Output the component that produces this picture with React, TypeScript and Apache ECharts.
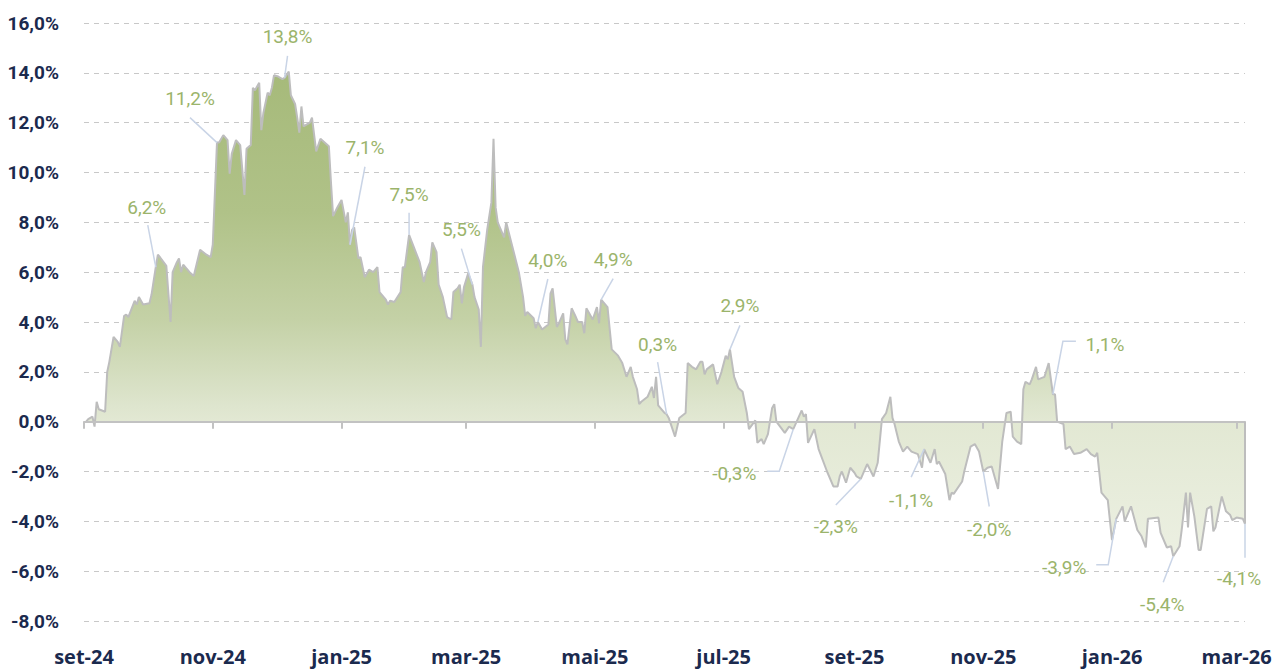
import { useEffect, useRef } from "react";
import * as echarts from "echarts";

// ---- data (date, cumulative % value) ----
const dates = [
  "2024-09-02","2024-09-03","2024-09-05","2024-09-06","2024-09-07","2024-09-08","2024-09-11","2024-09-12","2024-09-13","2024-09-15",
  "2024-09-17","2024-09-18","2024-09-20","2024-09-21","2024-09-22","2024-09-25","2024-09-26","2024-09-27","2024-09-29","2024-10-02",
  "2024-10-03","2024-10-05","2024-10-06","2024-10-07","2024-10-10","2024-10-12","2024-10-13","2024-10-15","2024-10-16","2024-10-17",
  "2024-10-18","2024-10-21","2024-10-23","2024-10-26","2024-10-29","2024-10-31","2024-11-01","2024-11-03","2024-11-04","2024-11-06",
  "2024-11-08","2024-11-09","2024-11-10","2024-11-12","2024-11-14","2024-11-16","2024-11-17","2024-11-19","2024-11-20","2024-11-21",
  "2024-11-23","2024-11-24","2024-11-25","2024-11-27","2024-11-28","2024-11-29","2024-11-30","2024-12-02","2024-12-04","2024-12-05",
  "2024-12-07","2024-12-08","2024-12-10","2024-12-11","2024-12-12","2024-12-13","2024-12-14","2024-12-17","2024-12-18","2024-12-20",
  "2024-12-22","2024-12-26","2024-12-27","2024-12-28","2024-12-30","2025-01-01","2025-01-03","2025-01-04","2025-01-05","2025-01-06",
  "2025-01-07","2025-01-09","2025-01-10","2025-01-12","2025-01-14","2025-01-16","2025-01-18","2025-01-19","2025-01-22","2025-01-23",
  "2025-01-24","2025-01-26","2025-01-29","2025-01-30","2025-01-31","2025-02-02","2025-02-07","2025-02-09","2025-02-10","2025-02-12",
  "2025-02-13","2025-02-15","2025-02-16","2025-02-18","2025-02-20","2025-02-22","2025-02-23","2025-02-25","2025-02-26","2025-02-27",
  "2025-02-28","2025-03-02","2025-03-04","2025-03-05","2025-03-07","2025-03-08","2025-03-09","2025-03-11","2025-03-13","2025-03-14",
  "2025-03-15","2025-03-16","2025-03-18","2025-03-19","2025-03-20","2025-03-23","2025-03-26","2025-03-28","2025-03-29","2025-03-30",
  "2025-04-02","2025-04-03","2025-04-04","2025-04-06","2025-04-09","2025-04-10","2025-04-11","2025-04-13","2025-04-14","2025-04-16",
  "2025-04-17","2025-04-18","2025-04-20","2025-04-22","2025-04-23","2025-04-25","2025-04-26","2025-04-27","2025-04-30","2025-05-02",
  "2025-05-03","2025-05-04","2025-05-07","2025-05-09","2025-05-12","2025-05-14","2025-05-16","2025-05-18","2025-05-19","2025-05-21",
  "2025-05-22","2025-05-23","2025-05-26","2025-05-28","2025-05-29","2025-05-30","2025-05-31","2025-06-03","2025-06-04","2025-06-05",
  "2025-06-08","2025-06-10","2025-06-13","2025-06-14","2025-06-16","2025-06-18","2025-06-20","2025-06-21","2025-06-22","2025-06-23",
  "2025-06-26","2025-06-28","2025-06-30","2025-07-02","2025-07-03","2025-07-04","2025-07-06","2025-07-08","2025-07-10","2025-07-12",
  "2025-07-13","2025-07-16","2025-07-17","2025-07-19","2025-07-20","2025-07-22","2025-07-24","2025-07-25","2025-07-26","2025-07-30",
  "2025-08-01","2025-08-03","2025-08-07","2025-08-08","2025-08-09","2025-08-10","2025-08-13","2025-08-15","2025-08-19","2025-08-22",
  "2025-08-24","2025-08-25","2025-08-26","2025-08-28","2025-08-30","2025-09-01","2025-09-02","2025-09-04","2025-09-07","2025-09-10",
  "2025-09-12","2025-09-14","2025-09-16","2025-09-18","2025-09-19","2025-09-20","2025-09-22","2025-09-24","2025-09-26","2025-09-28",
  "2025-10-01","2025-10-03","2025-10-04","2025-10-07","2025-10-09","2025-10-10","2025-10-11","2025-10-14","2025-10-16","2025-10-17",
  "2025-10-18","2025-10-22","2025-10-23","2025-10-26","2025-10-28","2025-10-30","2025-11-01","2025-11-03","2025-11-05","2025-11-08",
  "2025-11-10","2025-11-12","2025-11-14","2025-11-15","2025-11-17","2025-11-19","2025-11-20","2025-11-21","2025-11-23","2025-11-24",
  "2025-11-26","2025-11-27","2025-11-30","2025-12-02","2025-12-04","2025-12-05","2025-12-06","2025-12-09","2025-12-10","2025-12-12",
  "2025-12-14","2025-12-17","2025-12-20","2025-12-22","2025-12-24","2025-12-25","2025-12-27","2025-12-30","2026-01-01","2026-01-03",
  "2026-01-06","2026-01-07","2026-01-10","2026-01-13","2026-01-15","2026-01-17","2026-01-18","2026-01-23","2026-01-24","2026-01-27",
  "2026-01-29","2026-01-30","2026-02-02","2026-02-03","2026-02-05","2026-02-06","2026-02-07","2026-02-09","2026-02-11","2026-02-12",
  "2026-02-15","2026-02-17","2026-02-18","2026-02-19","2026-02-22","2026-02-24","2026-02-26","2026-02-27","2026-03-01","2026-03-04",
  "2026-03-05",
];

const values = [
  0.0, 0.1, 0.2, -0.2, 0.8, 0.5, 0.4, 2.0, 2.4, 3.4,
  3.2, 3.0, 4.25, 4.3, 4.2, 4.85, 4.7, 5.0, 4.7, 4.75,
  5.1, 6.2, 6.7, 6.6, 6.25, 4.0, 6.0, 6.4, 6.55, 6.0,
  6.3, 6.0, 5.85, 6.9, 6.7, 6.6, 7.1, 11.2, 11.2, 11.5,
  11.3, 9.95, 10.75, 11.3, 11.1, 9.1, 10.95, 11.1, 13.4, 13.3,
  13.6, 11.7, 12.4, 13.2, 13.1, 13.4, 13.9, 13.85, 13.75, 13.8,
  14.05, 13.1, 12.75, 12.2, 11.6, 12.65, 11.85, 12.0, 12.2, 10.85,
  11.35, 11.05, 9.6, 8.25, 8.6, 8.9, 8.0, 8.4, 7.1, 7.7,
  7.8, 6.55, 6.6, 5.8, 6.1, 6.0, 6.2, 5.2, 4.9, 4.7,
  4.85, 4.8, 5.2, 6.2, 6.2, 7.5, 6.4, 5.6, 6.0, 6.4,
  7.2, 6.8, 5.5, 5.0, 4.2, 4.1, 5.2, 5.35, 5.5, 4.75,
  5.4, 5.95, 5.5, 5.0, 4.5, 3.0, 6.2, 7.7, 8.8, 11.35,
  8.6, 8.0, 7.6, 7.4, 8.0, 7.0, 6.0, 5.0, 4.25, 4.4,
  4.15, 3.75, 4.0, 3.7, 3.9, 5.15, 5.35, 3.8, 3.95, 4.35,
  3.3, 3.1, 4.55, 4.2, 4.0, 4.0, 3.55, 4.55, 4.1, 4.6,
  3.95, 4.9, 4.6, 2.9, 2.65, 2.35, 1.8, 2.2, 1.8, 1.3,
  0.7, 0.8, 1.0, 1.4, 0.95, 1.8, 0.65, 0.35, 0.3, 0.15,
  -0.6, 0.15, 0.35, 2.35, 2.2, 2.1, 2.4, 2.4, 1.9, 2.1,
  2.3, 1.5, 2.0, 2.65, 2.5, 2.9, 1.8, 1.35, 1.2, 0.35,
  -0.3, 0.05, -0.85, -0.7, -0.9, -0.5, 0.55, 0.7, 0.0, -0.45,
  -0.2, -0.3, 0.45, 0.2, 0.3, -0.85, -0.3, -1.1, -2.0, -2.6,
  -2.6, -2.2, -2.0, -2.45, -1.85, -2.05, -2.2, -2.3, -1.7, -2.2,
  -1.65, 0.1, 0.35, 1.0, 0.15, -0.1, -0.8, -1.2, -1.0, -1.2,
  -1.3, -1.85, -1.1, -1.65, -1.1, -1.7, -1.6, -2.1, -3.15, -2.85,
  -2.9, -2.4, -2.0, -1.0, -0.9, -1.2, -2.0, -1.85, -1.8, -2.7,
  -0.8, 0.35, 0.4, -0.6, -0.8, -0.9, 1.3, 1.6, 1.5, 1.7,
  2.2, 1.7, 1.8, 2.35, 1.1, 1.1, 0.0, -0.1, -1.1, -1.0,
  -1.3, -1.25, -1.1, -1.3, -1.4, -1.25, -2.85, -3.15, -4.75, -3.9,
  -3.4, -4.0, -3.4, -4.35, -4.6, -5.05, -3.9, -3.85, -4.45, -5.05,
  -5.0, -5.4, -5.0, -4.35, -2.85, -4.25, -2.85, -3.8, -5.15, -5.15,
  -3.5, -3.4, -4.4, -4.25, -3.0, -3.6, -3.75, -3.95, -3.85, -3.9,
  -4.1,
];

// annotated points
const annotationDates = [
  "2024-10-05","2024-11-03","2024-12-05","2025-01-05","2025-02-02","2025-03-04",
  "2025-04-04","2025-05-04","2025-06-04","2025-07-04","2025-08-03","2025-09-04",
  "2025-10-04","2025-11-01","2025-12-04","2026-01-03","2026-01-30","2026-03-05",
];
const annotationValues = [6.2, 11.2, 13.8, 7.1, 7.5, 5.5, 4.0, 4.9, 0.3, 2.9, -0.3, -2.3, -1.1, -2.0, 1.1, -3.9, -5.4, -4.1];

// y axis ticks
const yMin = -8;
const yMax = 16;
const yStep = 2;

const FIRST_DAY = "2024-09-01";
const LAST_DAY = "2026-03-05";
const MONTHS_PT = ["jan", "fev", "mar", "abr", "mai", "jun", "jul", "ago", "set", "out", "nov", "dez"];

// ---- styling (pixel offsets of leader lines / labels relative to their point) ----
const annotationLayout: { lead: number[][]; label: number[] }[] = [
  { lead: [[-8, -42]], label: [-9, -60] },
  { lead: [[-27, -25]], label: [-27, -44] },
  { lead: [[3, -22]], label: [3, -41] },
  { lead: [[15, -78]], label: [15, -97] },
  { lead: [[0, -22]], label: [0, -40] },
  { lead: [[-11, -36]], label: [-11, -55] },
  { lead: [[10, -43]], label: [10, -62] },
  { lead: [[12, -21]], label: [12, -40] },
  { lead: [[-9, -52]], label: [-9, -70] },
  { lead: [[10, -24]], label: [10, -44] },
  { lead: [[-14, 42], [-26, 42]], label: [-59, 44] },
  { lead: [[-25, 26]], label: [-25, 48] },
  { lead: [[-13, 28]], label: [-13, 51] },
  { lead: [[6, 35]], label: [6, 58] },
  { lead: [[10, -53], [23, -53]], label: [52, -50] },
  { lead: [[-8, 46], [-20, 46]], label: [-52, 49] },
  { lead: [[-10, 26]], label: [-11, 48] },
  { lead: [[0, 34]], label: [-6, 55] },
];

const FONT = "Roboto, 'Open Sans', sans-serif";
const NAVY = "#1b2a4e";
const GREEN_TEXT = "#9bb46b";
const LEADER = "#c9d4e6";
const LINE = "#bdbdbd";

function buildCategories(): string[] {
  const out: string[] = [];
  const start = Date.UTC(+FIRST_DAY.slice(0, 4), +FIRST_DAY.slice(5, 7) - 1, +FIRST_DAY.slice(8, 10));
  const end = Date.UTC(+LAST_DAY.slice(0, 4), +LAST_DAY.slice(5, 7) - 1, +LAST_DAY.slice(8, 10));
  for (let t = start; t <= end; t += 86400000) {
    out.push(new Date(t).toISOString().slice(0, 10));
  }
  return out;
}

function isMonthTick(value: string): boolean {
  const m = Number(value.slice(5, 7));
  return value.slice(8, 10) === "01" && m % 2 === 1;
}

function fmtPct(v: number): string {
  return v.toFixed(1).replace(".", ",") + "%";
}

export default function App() {
  const ref = useRef<HTMLDivElement>(null);

  useEffect(() => {
    if (!ref.current) return;
    const chart = echarts.init(ref.current, undefined, { renderer: "svg" });

    const categories = buildCategories();
    const byDate = new Map<string, number>();
    dates.forEach((d, i) => byDate.set(d, values[i]));
    const lineData = categories.map((c) => (byDate.has(c) ? byDate.get(c)! : null));

    const lastIdx = categories.indexOf(dates[dates.length - 1]);
    const lastVal = values[values.length - 1];

    const annData = annotationDates.map((d, i) => [categories.indexOf(d), annotationValues[i], i]);

    chart.setOption({
      animation: false,
      textStyle: { fontFamily: FONT },
      grid: { left: 84, right: 31, top: 23, bottom: 48, containLabel: false, outerBoundsMode: "none" },
      xAxis: [
        {
          type: "category",
          data: categories,
          boundaryGap: false,
          position: "bottom",
          z: 3,
          axisLine: { show: true, onZero: true, lineStyle: { color: "#c2c2c2", width: 2 } },
          axisTick: {
            show: true,
            length: 7,
            interval: (_i: number, v: string) => isMonthTick(v),
            lineStyle: { color: "#c2c2c2", width: 2 },
          },
          axisLabel: { show: false },
          splitLine: { show: false },
        },
        {
          type: "category",
          data: categories,
          boundaryGap: false,
          position: "bottom",
          axisLine: { show: false, onZero: false },
          axisTick: { show: false },
          splitLine: { show: false },
          axisLabel: {
            show: true,
            interval: (_i: number, v: string) => isMonthTick(v),
            formatter: (v: string) => `${MONTHS_PT[Number(v.slice(5, 7)) - 1]}-${v.slice(2, 4)}`,
            color: NAVY,
            fontSize: 20,
            lineHeight: 22,
            fontWeight: "bold",
            fontFamily: "'Open Sans', sans-serif",
            margin: 24,
          },
        },
      ],
      yAxis: {
        type: "value",
        min: yMin,
        max: yMax,
        interval: yStep,
        axisLine: { show: false },
        axisTick: { show: false },
        axisLabel: {
          formatter: (v: number) => fmtPct(v),
          color: NAVY,
          fontSize: 19,
          fontWeight: "bold",
          fontFamily: FONT,
          margin: 25,
        },
        splitLine: { show: true, lineStyle: { color: "#c8c8c8", width: 1, type: [5, 5] } },
      },
      series: [
        {
          type: "line",
          xAxisIndex: 0,
          data: lineData,
          connectNulls: true,
          symbol: "none",
          z: 2,
          lineStyle: { color: LINE, width: 2 },
          areaStyle: {
            opacity: 1,
            color: {
              type: "linear",
              x: 0,
              y: 0,
              x2: 0,
              y2: 1,
              colorStops: [
                { offset: 0, color: "#a6ba7a" },
                { offset: 0.29, color: "#b0c288" },
                { offset: 0.51, color: "#c4d1a6" },
                { offset: 0.69, color: "#dee5ce" },
                { offset: 0.72, color: "#e2e8d3" },
                { offset: 1, color: "#ecf0e2" },
              ],
            },
          },
          markLine: {
            silent: true,
            symbol: ["none", "none"],
            label: { show: false },
            lineStyle: { color: LINE, width: 2, type: "solid" },
            data: [[{ coord: [lastIdx, 0] }, { coord: [lastIdx, lastVal] }]],
          },
        },
        {
          type: "custom",
          xAxisIndex: 0,
          coordinateSystem: "cartesian2d",
          clip: false,
          silent: true,
          z: 6,
          data: annData,
          renderItem: (_params: any, api: any) => {
            const idx = api.value(2);
            const p = api.coord([api.value(0), api.value(1)]);
            const lay = annotationLayout[idx];
            const pts = [p, ...lay.lead.map(([dx, dy]) => [p[0] + dx, p[1] + dy])];
            return {
              type: "group",
              children: [
                {
                  type: "polyline",
                  shape: { points: pts },
                  style: { stroke: LEADER, lineWidth: 1.5, fill: null },
                },
                {
                  type: "text",
                  x: p[0] + lay.label[0],
                  y: p[1] + lay.label[1],
                  style: {
                    text: fmtPct(annotationValues[idx]),
                    fill: GREEN_TEXT,
                    fontSize: 19,
                    fontFamily: FONT,
                    align: "center",
                    verticalAlign: "middle",
                  },
                },
              ],
            };
          },
        },
      ],
    });

    return () => chart.dispose();
  }, []);

  return (
    <div
      ref={ref}
      style={{ position: "fixed", left: 0, top: 0, width: 1276, height: 669, background: "#ffffff" }}
    />
  );
}
